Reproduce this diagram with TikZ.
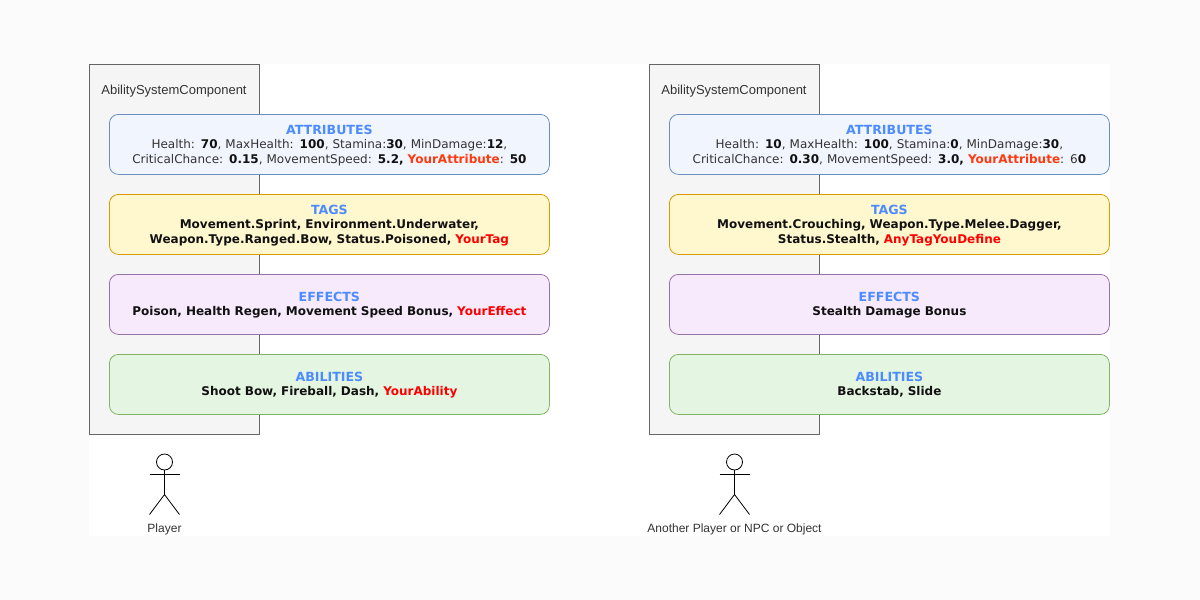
\documentclass[tikz,border=0pt]{standalone}
\usepackage{fontspec}
\setmainfont{DejaVu Sans}
\newfontfamily\labelfont{Liberation Sans}
\definecolor{pagebg}{HTML}{FBFBFB}
\definecolor{headblue}{HTML}{4D8CFF}
\definecolor{attrred}{HTML}{FF3A0F}
\definecolor{plain}{HTML}{333333}
\definecolor{strong}{HTML}{111111}
\definecolor{attrfill}{HTML}{F1F5FD}\definecolor{attrline}{HTML}{6C8EBF}
\definecolor{tagfill}{HTML}{FFF8CF}\definecolor{tagline}{HTML}{D79B00}
\definecolor{efffill}{HTML}{F8EAFD}\definecolor{effline}{HTML}{9673A6}
\definecolor{abifill}{HTML}{E4F6E2}\definecolor{abiline}{HTML}{82B366}
\definecolor{panelfill}{HTML}{F5F5F5}\definecolor{panelline}{HTML}{666666}
\newcommand{\hd}[1]{\rule{0pt}{13pt}{\fontsize{12.6}{15}\selectfont\bfseries\color{headblue}#1}\\[-1pt]}
\newcommand{\bv}[1]{{\bfseries\color{strong}#1}}
\newcommand{\rd}[1]{{\bfseries\color{red}#1}}
\newcommand{\ra}[1]{{\bfseries\color{attrred}#1}}
\newcommand{\lastdepth}{\rule[-4pt]{0pt}{4pt}}
\tikzset{
  x=1pt,y=-1pt,
  band/.style={draw=#1line,fill=#1fill,line width=0.8pt,rounded corners=9pt,minimum width=440pt,minimum height=60pt,inner sep=0pt,anchor=north west,align=center,text width=436pt,font=\fontsize{12}{15}\selectfont,text=plain},
  panel/.style={draw=panelline,fill=panelfill,line width=0.8pt,minimum width=170pt,minimum height=370pt,inner sep=0pt,anchor=north west},
  paneltitle/.style={font=\labelfont\fontsize{13}{15}\selectfont,text=plain,inner sep=0pt},
  caption/.style={font=\labelfont\fontsize{12}{14}\selectfont,text=plain,inner sep=0pt},
  head/.style={draw=black,circle,minimum size=16pt,inner sep=0pt,line width=0.8pt},
  limb/.style={draw=black,line width=0.8pt}
}
\begin{document}
\begin{tikzpicture}
\useasboundingbox (0,0) rectangle (1200,600);
\fill[pagebg] (0,0) rectangle (1200,600);
\fill[white] (89,64) rectangle (1110,536);

% left column
\node[panel] (pa) at (89,64) {};
\node[paneltitle] (ta) at (174,91.5) {AbilitySystemComponent};
\node[band=attr] (a1) at (109,114) {\hd{ATTRIBUTES}Health: \bv{70}, MaxHealth: \bv{100}, Stamina:\bv{30}, MinDamage:\bv{12},\\CriticalChance: \bv{0.15}, MovementSpeed: \bv{5.2, }\ra{YourAttribute}: \bv{50}\lastdepth};
\node[band=tag] (a2) at (109,194) {\hd{TAGS}\bv{Movement.Sprint, Environment.Underwater,}\\\bv{Weapon.Type.Ranged.Bow, Status.Poisoned, }\rd{YourTag}\lastdepth};
\node[band=eff] (a3) at (109,274) {\hd{EFFECTS}\bv{Poison, Health Regen, Movement Speed Bonus, }\rd{YourEffect}\lastdepth};
\node[band=abi] (a4) at (109,354) {\hd{ABILITIES}\bv{Shoot Bow, Fireball, Dash, }\rd{YourAbility}\lastdepth};
\node[head] (h1) at (164.5,462) {};
\coordinate (hl1) at (149.5,474.5);
\coordinate (hr1) at (179.5,474.5);
\coordinate (w1) at (164.5,494.5);
\coordinate (fl1) at (149.5,514.5);
\coordinate (fr1) at (179.5,514.5);
\draw[limb] (h1.south) -- (w1);
\draw[limb] (hl1) -- (hr1);
\draw[limb] (fl1) -- (w1) -- (fr1);
\node[caption] (c1) at (164.5,529) {Player};

% right column
\node[panel] (pb) at (649,64) {};
\node[paneltitle] (tb) at (734,91.5) {AbilitySystemComponent};
\node[band=attr] (b1) at (669,114) {\hd{ATTRIBUTES}Health: \bv{10}, MaxHealth: \bv{100}, Stamina:\bv{0}, MinDamage:\bv{30},\\CriticalChance: \bv{0.30}, MovementSpeed: \bv{3.0, }\ra{YourAttribute}: 6\bv{0}\lastdepth};
\node[band=tag] (b2) at (669,194) {\hd{TAGS}\bv{Movement.Crouching, Weapon.Type.Melee.Dagger,}\\\bv{Status.Stealth, }\rd{AnyTagYouDefine}\lastdepth};
\node[band=eff] (b3) at (669,274) {\hd{EFFECTS}\bv{Stealth Damage Bonus}\lastdepth};
\node[band=abi] (b4) at (669,354) {\hd{ABILITIES}\bv{Backstab, Slide}\lastdepth};
\node[head] (h2) at (734.5,462) {};
\coordinate (hl2) at (719.5,474.5);
\coordinate (hr2) at (749.5,474.5);
\coordinate (w2) at (734.5,494.5);
\coordinate (fl2) at (719.5,514.5);
\coordinate (fr2) at (749.5,514.5);
\draw[limb] (h2.south) -- (w2);
\draw[limb] (hl2) -- (hr2);
\draw[limb] (fl2) -- (w2) -- (fr2);
\node[caption] (c2) at (734.5,529) {Another Player or NPC or Object};
\end{tikzpicture}
\end{document}
